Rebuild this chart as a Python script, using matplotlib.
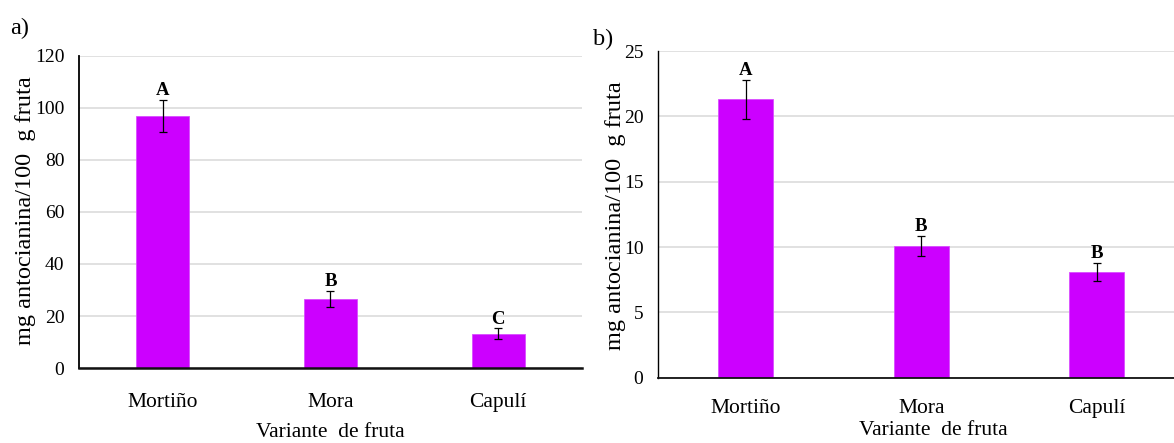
import matplotlib
matplotlib.use("Agg")
import matplotlib.pyplot as plt

# Anthocyanin content per fruit variety, two extractions
categorias = ["Mortiño", "Mora", "Capulí"]

antocianina_a = [96.9, 26.5, 13.2]
error_a = [6.2, 3.2, 2.0]
letras_a = ["A", "B", "C"]

antocianina_b = [21.3, 10.1, 8.1]
error_b = [1.5, 0.75, 0.7]
letras_b = ["A", "B", "B"]

ylim_a, ystep_a = 120, 20
ylim_b, ystep_b = 25, 5

plt.rcParams["font.family"] = ["Liberation Serif", "DejaVu Serif"]

BAR = "#CC00FF"
GRID = "#D9D9D9"

fig = plt.figure(figsize=(11.74, 4.43), dpi=100)
ax_a = fig.add_axes([0.06729, 0.16930, 0.42845, 0.70429])
ax_b = fig.add_axes([0.56048, 0.14740, 0.44847, 0.73747])


def panel(ax, valores, errores, letras, ymax, ystep, spine_lw, base_lw,
          tick_pad_x, xlabel_pos, ylabel_pos):
    x = list(range(len(categorias)))
    ax.set_axisbelow(True)
    ax.yaxis.grid(True, color=GRID, lw=1.1)
    ax.bar(x, valores, width=0.315, color=BAR, edgecolor="#D94DFF",
           lw=0.6, zorder=2)
    ax.errorbar(x, valores, yerr=errores, fmt="none", ecolor="black",
                elinewidth=0.9, capsize=2.6, capthick=0.9, zorder=3)
    for xi, v, e, l in zip(x, valores, errores, letras):
        ax.annotate(l, (xi, v + e), xytext=(0, 3.5), textcoords="offset points",
                    ha="center", va="baseline", fontsize=13.5,
                    fontweight="bold", zorder=4)
    ax.set_xlim(-0.5, len(categorias) - 0.5)
    ax.set_ylim(0, ymax)
    ax.set_yticks(range(0, ymax + 1, ystep))
    ax.set_xticks(x)
    ax.set_xticklabels(categorias, fontsize=15.5)
    ax.tick_params(axis="y", length=0, pad=10.5, labelsize=14)
    ax.tick_params(axis="x", length=0, pad=tick_pad_x)
    for s in ("top", "right"):
        ax.spines[s].set_visible(False)
    ax.spines["left"].set_linewidth(spine_lw)
    ax.spines["bottom"].set_linewidth(base_lw)
    ax.spines["left"].set_color("black")
    ax.spines["bottom"].set_color("#111111")
    ax.set_xlabel("Variante  de fruta", fontsize=15.5, va="center")
    ax.xaxis.set_label_coords(*xlabel_pos)
    ax.set_ylabel("mg antocianina/100  g fruta", fontsize=17.5, va="center")
    ax.yaxis.set_label_coords(*ylabel_pos)


panel(ax_a, antocianina_a, error_a, letras_a, ylim_a, ystep_a,
      1.3, 1.8, 18, (0.5, -0.208), (-0.107, 0.506))
panel(ax_b, antocianina_b, error_b, letras_b, ylim_b, ystep_b,
      1.0, 1.3, 15.5, (0.523, -0.163), (-0.0814, 0.495))

fig.text(10 / 1174, 1 - 28 / 443, "a)", fontsize=17.5, ha="left", va="center")
fig.text(593 / 1174, 1 - 39 / 443, "b)", fontsize=17.5, ha="left", va="center")

fig.savefig("out.png", dpi=100, facecolor="white")
